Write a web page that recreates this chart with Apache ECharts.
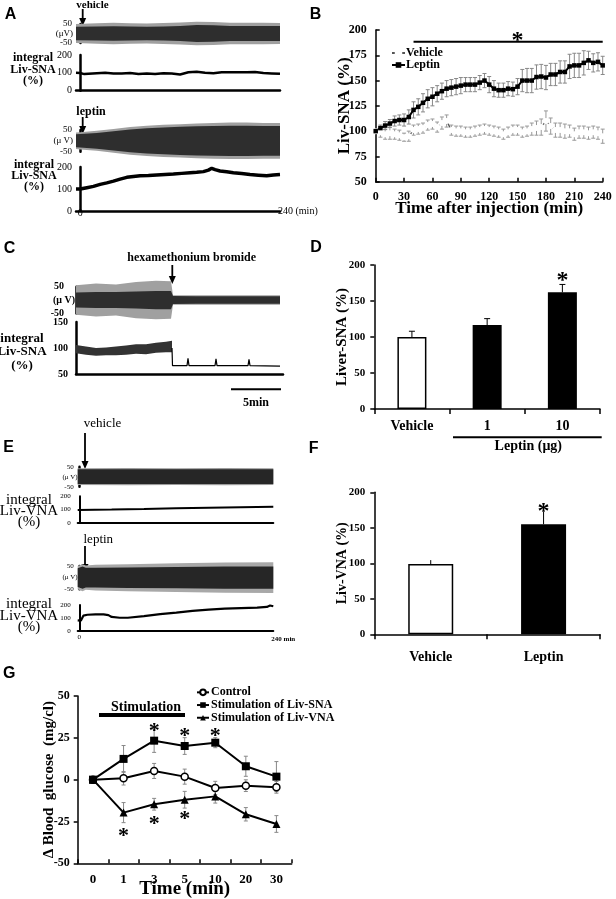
<!DOCTYPE html>
<html>
<head>
<meta charset="utf-8">
<script src="https://cdn.jsdelivr.net/npm/echarts@6/dist/echarts.min.js"></script>
<style>
  html, body { margin: 0; padding: 0; background: #fff; }
  #chart { width: 616px; height: 899px; }
</style>
</head>
<body>
<div id="chart"></div>
<script>
// ---------- data ----------
// A: raw Liv-SNA envelope (half amplitude, uV) and integrated Liv-SNA (%)
const aVehRawTime = [-5, 20, 40, 60, 80, 100, 120, 140, 160, 180, 200, 220, 240]
const aVehRawCore = [36, 37, 38, 37, 36, 37, 40, 45, 44, 40, 39, 40, 39]
const aVehRawFringe = [50, 54, 56, 54, 52, 55, 58, 62, 60, 56, 56, 57, 55]
const aVehIntTime = [-5, 0, 5, 10, 20, 30, 40, 50, 60, 70, 80, 90, 100, 110, 120, 130, 140, 150, 160, 170, 180, 190, 200, 210, 220, 230, 240]
const aVehIntVal = [100, 99, 93, 95, 98, 100, 97, 96, 99, 94, 96, 93, 98, 96, 91, 103, 106, 101, 98, 103, 104, 104, 103, 105, 99, 97, 95]
const aLepRawTime = [-5, 0, 20, 40, 60, 80, 100, 120, 140, 160, 180, 200, 220, 240]
const aLepRawCore = [30, 31, 36, 44, 52, 58, 62, 65, 67, 69, 70, 70, 69, 69]
const aLepRawFringe = [38, 40, 46, 55, 64, 70, 74, 77, 80, 82, 84, 84, 82, 82]
const aLepIntTime = [-5, 0, 8, 16, 24, 32, 40, 48, 56, 64, 72, 82, 92, 102, 112, 122, 132, 140, 148, 154, 158, 162, 168, 176, 184, 194, 204, 214, 224, 232, 240]
const aLepIntVal = [100, 100, 106, 112, 121, 128, 136, 145, 153, 157, 160, 161, 164, 166, 168, 171, 174, 176, 179, 186, 194, 188, 182, 178, 174, 170, 166, 163, 160, 164, 166]

// B: Liv-SNA (%) every 5 min, mean and SE
const bTime = [0, 5, 10, 15, 20, 25, 30, 35, 40, 45, 50, 55, 60, 65, 70, 75, 80, 85, 90, 95, 100, 105, 110, 115, 120, 125, 130, 135, 140, 145, 150, 155, 160, 165, 170, 175, 180, 185, 190, 195, 200, 205, 210, 215, 220, 225, 230, 235, 240]
const bLeptin = [100, 103, 105.5, 107.5, 110, 111, 111, 114, 121, 124, 128, 132, 134, 137, 139.5, 142, 143, 144, 145, 146, 146, 146, 148, 150, 146, 142, 140.5, 140.5, 142, 141.5, 144, 150, 150, 150, 153.5, 154, 153, 156, 156, 158.5, 158.5, 164, 165, 165, 167.5, 170, 167.5, 168.5, 165]
const bLepErr = [0, 3, 4, 4, 5, 5, 6, 7, 8, 8, 9, 9, 9, 8, 8, 8, 8, 8, 8, 7, 7, 7, 7, 7, 8, 8, 7, 7, 7, 7, 8, 11, 12, 12, 12, 12, 12, 11, 11, 11, 11, 12, 12, 12, 12, 9, 9, 9, 9]
const bVehicle = [100, 99, 97, 98, 97, 96, 94, 95, 101, 102, 103, 106, 107, 104, 108, 110, 101, 100, 100, 99, 99, 100, 101, 102, 101, 100, 99, 97, 99, 101, 101, 99, 100, 102, 103, 104, 110, 105, 101, 101, 100, 100, 97, 99, 99, 98, 99, 98, 95]
const bVehErr = [0, 5, 5, 6, 5, 5, 4, 5, 5, 5, 5, 5, 5, 5, 6, 6, 5, 5, 5, 5, 5, 5, 5, 5, 5, 5, 5, 5, 5, 5, 5, 5, 5, 6, 7, 8, 10, 8, 7, 7, 7, 6, 6, 6, 6, 6, 6, 6, 7]
const bSigSpan = [40, 240]
const bSigLevel = 188.5
const bStar = [150, 196]

// C: hexamethonium bromide (time in min)
const cRawTime = [0, 2, 4, 6, 8, 9.5, 9.7, 12, 14, 16, 18, 20.4]
const cRawCore = [28, 30, 30, 32, 34, 34, 15, 14, 14, 14, 14, 14]
const cRawFringe = [55, 62, 58, 68, 72, 70, 18, 18, 18, 18, 18, 18]
const cIntTime = [0, 1, 2, 3, 4, 5, 6, 7, 8, 9, 9.6]
const cIntLow = [90, 87, 85, 86, 86, 87, 89, 88, 91, 92, 92]
const cIntHigh = [106, 103, 100, 101, 103, 105, 107, 107, 110, 112, 114]
const cPostTime = [9.6, 9.65, 11.1, 11.2, 11.3, 13.9, 14.0, 14.1, 17.2, 17.3, 17.4, 20.4]
const cPostVal = [100, 66, 66, 80, 66, 66, 79, 66, 66, 78, 66, 65]

// D: Liver-SNA (%) by leptin dose
const dCats = ['Vehicle', '1', '10']
const dVals = [100, 116.5, 162]
const dErr = [8, 9, 11]
const dStar = [2, 187]

// E: raw Liv-VNA envelope and integrated Liv-VNA (%)
const eVehRawTime = [-2, 60, 120, 180, 240]
const eVehRawCore = [37, 37, 37, 37, 37]
const eVehRawFringe = [42, 43, 42, 43, 42]
const eVehIntTime = [-2, 40, 80, 120, 160, 200, 240]
const eVehIntVal = [97, 100, 104, 109, 114, 118, 122]
const eLepRawTime = [-2, 4, 8, 20, 60, 120, 180, 240]
const eLepRawCore = [40, 48, 42, 42, 44, 46, 48, 48]
const eLepRawFringe = [50, 58, 52, 55, 58, 62, 65, 66]
const eLepIntTime = [-2, 2, 5, 10, 20, 30, 36, 40, 50, 60, 80, 100, 120, 140, 160, 180, 200, 220, 232, 236, 240]
const eLepIntVal = [82, 80, 118, 125, 128, 128, 122, 108, 102, 102, 115, 130, 142, 155, 165, 172, 176, 180, 185, 196, 190]

// F: Liv-VNA (%)
const fCats = ['Vehicle', 'Leptin']
const fVals = [99, 155]
const fErr = [5.5, 17.5]
const fStar = [1, 182]

// G: change of blood glucose (mg/dl)
const gCats = ['0', '1', '3', '5', '10', '20', '30']
const gControl = [0, 0.8, 5.2, 1.8, -5, -3.6, -4.6]
const gControlErr = [0, 4, 4.5, 4.5, 4, 3.5, 3.5]
const gSNA = [0, 12.4, 23.3, 20.1, 22.1, 8, 1.8]
const gSNAErr = [0, 8, 7, 5, 3, 6, 9]
const gVNA = [0, -19.7, -14.7, -12, -10, -20.7, -26.5]
const gVNAErr = [0, 6, 3.5, 5, 4, 4, 5]
const gStarIdx = [2, 3, 4, 1, 2, 3]
const gStarVal = [32.7, 29.7, 29.7, -30, -23, -20]

// ---------- helpers ----------
const SERIF = 'Liberation Serif'
const SANS = 'Liberation Sans'
const BLACK = '#000'

function font(size, extra) {
  return Object.assign({ color: BLACK, fontFamily: SERIF, fontWeight: 'bold', fontSize: size }, extra || {})
}

const pairs = (xs, ys) => xs.map((x, i) => [x, ys[i]])

// filled band between two curves (symmetric when lower is omitted)
function band(g, times, upper, lower, color) {
  const low = lower || upper.map(v => -v)
  return {
    type: 'custom', xAxisIndex: g, yAxisIndex: g, silent: true,
    data: [[times[0], upper[0]]],
    renderItem: (params, api) => {
      const top = times.map((t, i) => api.coord([t, upper[i]]))
      const bot = times.map((t, i) => api.coord([t, low[i]])).reverse()
      return { type: 'polygon', shape: { points: top.concat(bot) }, style: { fill: color } }
    }
  }
}

function trace(g, times, vals, width) {
  return {
    type: 'line', xAxisIndex: g, yAxisIndex: g, silent: true, symbol: 'none',
    data: pairs(times, vals), lineStyle: { color: BLACK, width: width }
  }
}

function errorBars(g, xs, ys, errs, color, cap, upOnly) {
  return {
    type: 'custom', xAxisIndex: g, yAxisIndex: g, silent: true, z: 1,
    data: xs.map((x, i) => [x, ys[i], errs[i]]),
    renderItem: (params, api) => {
      const x = api.value(0), y = api.value(1), e = api.value(2)
      const hi = api.coord([x, y + e])
      const lo = api.coord([x, upOnly ? y : y - e])
      const st = { stroke: color, lineWidth: 1 }
      const kids = [
        { type: 'line', shape: { x1: hi[0], y1: hi[1], x2: lo[0], y2: lo[1] }, style: st },
        { type: 'line', shape: { x1: hi[0] - cap, y1: hi[1], x2: hi[0] + cap, y2: hi[1] }, style: st }
      ]
      if (!upOnly) kids.push({ type: 'line', shape: { x1: lo[0] - cap, y1: lo[1], x2: lo[0] + cap, y2: lo[1] }, style: st })
      return { type: 'group', children: kids }
    }
  }
}

function stars(g, xs, ys, size) {
  return {
    type: 'custom', xAxisIndex: g, yAxisIndex: g, silent: true, z: 5,
    data: xs.map((x, i) => [x, ys[i]]),
    renderItem: (params, api) => {
      const c = api.coord([api.value(0), api.value(1)])
      return {
        type: 'text',
        style: { text: '*', x: c[0], y: c[1] + size * 0.28, fill: BLACK, font: 'bold ' + size + 'px "' + SERIF + '"', align: 'center', verticalAlign: 'middle' }
      }
    }
  }
}

function rawY(g, fs, margin, gap, weight, unit) {
  return {
    gridIndex: g, type: 'value', min: -50, max: 50, interval: 100,
    axisLine: { show: true, lineStyle: { color: BLACK, width: 2.5 } },
    axisTick: { show: false }, splitLine: { show: false },
    axisLabel: font(fs, { margin: margin, fontWeight: weight }),
    name: unit || '(μV)', nameLocation: 'middle', nameRotate: 0, nameGap: gap, nameMoveOverlap: false,
    nameTextStyle: font(fs, { fontWeight: weight })
  }
}

function hiddenX(g, min, max) {
  return { gridIndex: g, type: 'value', min: min, max: max, show: false }
}

function traceX(g, min, max, w, extra) {
  return Object.assign({
    gridIndex: g, type: 'value', min: min, max: max, nameMoveOverlap: false,
    axisLine: { show: true, onZero: false, lineStyle: { color: BLACK, width: w } },
    axisTick: { show: false }, axisLabel: { show: false }, splitLine: { show: false }
  }, extra || {})
}

function traceY(g, min, max, interval, fs, margin, w, weight) {
  return {
    gridIndex: g, type: 'value', min: min, max: max, interval: interval,
    axisLine: { show: true, lineStyle: { color: BLACK, width: w } },
    axisTick: { show: false }, splitLine: { show: false },
    axisLabel: font(fs, { margin: margin, fontWeight: weight })
  }
}

function plotAxis(extra) {
  return Object.assign({
    nameMoveOverlap: false,
    axisLine: { show: true, onZero: false, lineStyle: { color: BLACK, width: 1.5 } },
    axisTick: { show: true, length: 4, lineStyle: { color: BLACK, width: 1.5 } },
    splitLine: { show: false }
  }, extra)
}

const insideTick = { show: true, inside: true, length: 4, lineStyle: { color: BLACK, width: 1.5 } }

// ---------- layout ----------
const gridBoxes = [
  [76, 24, 204, 19],        // 0 A vehicle raw
  [76, 55, 204, 35.7],      // 1 A vehicle integral
  [76, 130, 204, 21.7],     // 2 A leptin raw
  [76, 167, 204, 44],       // 3 A leptin integral
  [375.7, 30, 227, 151.7],  // 4 B
  [76, 286.7, 207, 26.7],   // 5 C raw
  [76, 322, 207, 52],       // 6 C integral
  [374.3, 265, 225.7, 144], // 7 D
  [77.7, 466.7, 195.6, 20], // 8 E vehicle raw
  [77.7, 496.3, 195.6, 26.5], // 9 E vehicle integral
  [77.7, 566, 195.6, 23.3], // 10 E leptin raw
  [77.7, 605, 195.6, 26],   // 11 E leptin integral
  [374.3, 492.3, 225.7, 142], // 12 F
  [77.7, 696, 214, 167.3]   // 13 G
]
const grid = gridBoxes.map(b => ({ left: b[0], top: b[1], width: b[2], height: b[3], outerBoundsMode: 'none', containLabel: false }))

const xAxis = [
  hiddenX(0, -5, 240),
  traceX(1, -5, 240, 2.5),
  hiddenX(2, -5, 240),
  traceX(3, -5, 240, 2.5, {
    axisLabel: font(10, { fontWeight: 'normal', customValues: [0], margin: -3 }),
    name: '240 (min)', nameLocation: 'end', nameGap: -2, nameTextStyle: font(10, { fontWeight: 'normal' })
  }),
  plotAxis({ gridIndex: 4, type: 'value', min: 0, max: 240, interval: 30,
    axisTick: insideTick,
    axisLabel: font(12, { margin: 9 }),
    name: 'Time after injection (min)', nameLocation: 'middle', nameGap: 18, nameTextStyle: font(17) }),
  hiddenX(5, 0, 20.7),
  traceX(6, 0, 20.7, 2.5),
  plotAxis({ gridIndex: 7, type: 'category', data: dCats, boundaryGap: true,
    axisTick: { show: true, length: 5, alignWithLabel: false, lineStyle: { color: BLACK, width: 1.5 } },
    axisLabel: font(14, { margin: 10 }) }),
  hiddenX(8, -2, 240),
  traceX(9, -2, 240, 2),
  hiddenX(10, -2, 240),
  traceX(11, -2, 240, 2, {
    axisLabel: font(7, { fontWeight: 'normal', customValues: [0], margin: 3 }),
    name: '240 min', nameLocation: 'end', nameGap: -2,
    nameTextStyle: font(7, { verticalAlign: 'top', lineHeight: 17 })
  }),
  plotAxis({ gridIndex: 12, type: 'category', data: fCats, boundaryGap: true,
    axisTick: { show: true, length: 5, alignWithLabel: false, lineStyle: { color: BLACK, width: 1.5 } },
    axisLabel: font(14, { margin: 16 }) }),
  plotAxis({ gridIndex: 13, type: 'category', data: gCats, boundaryGap: true,
    axisTick: Object.assign({ alignWithLabel: false }, insideTick),
    axisLabel: font(13, { margin: 10 }),
    name: 'Time (min)', nameLocation: 'middle', nameGap: 16, nameTextStyle: font(19) })
]

const yAxis = [
  rawY(0, 9, 4, 3, 'normal'),
  traceY(1, 0, 200, 100, 10, 4, 2.5, 'normal'),
  rawY(2, 9, 4, 3, 'normal', '(μ V)'),
  traceY(3, 0, 200, 100, 10, 4, 2.5, 'normal'),
  plotAxis({ gridIndex: 4, type: 'value', min: 50, max: 200, interval: 25,
    axisTick: insideTick,
    axisLabel: font(12, { margin: 9 }),
    name: 'Liv-SNA (%)', nameLocation: 'middle', nameGap: 23, nameTextStyle: font(17) }),
  rawY(5, 10, 12, 1, 'bold', '(μ V)'),
  traceY(6, 50, 150, 50, 10, 8, 2.5, 'bold'),
  plotAxis({ gridIndex: 7, type: 'value', min: 0, max: 200, interval: 50,
    axisLabel: font(11, { margin: 9 }),
    name: 'Liver-SNA (%)', nameLocation: 'middle', nameGap: 25, nameTextStyle: font(15) }),
  rawY(8, 7, 4, 0, 'normal', '(μ V)'),
  traceY(9, 0, 200, 100, 7, 7, 2, 'normal'),
  rawY(10, 7, 4, 0, 'normal', '(μ V)'),
  traceY(11, 0, 200, 100, 7, 7, 2, 'normal'),
  plotAxis({ gridIndex: 12, type: 'value', min: 0, max: 200, interval: 50,
    axisLabel: font(11, { margin: 9 }),
    name: 'Liv-VNA (%)', nameLocation: 'middle', nameGap: 25, nameTextStyle: font(14) }),
  plotAxis({ gridIndex: 13, type: 'value', min: -50, max: 50, interval: 25,
    axisLabel: font(12, { margin: 8 }),
    name: 'Δ Blood  glucose  (mg/cl)', nameLocation: 'middle', nameGap: 21, nameTextStyle: font(15) })
]

// ---------- series ----------
const series = [
  // A
  band(0, aVehRawTime, aVehRawFringe, null, '#a0a0a0'),
  band(0, aVehRawTime, aVehRawCore, null, '#2e2e2e'),
  trace(1, aVehIntTime, aVehIntVal, 2.5),
  band(2, aLepRawTime, aLepRawFringe, null, '#a0a0a0'),
  band(2, aLepRawTime, aLepRawCore, null, '#2e2e2e'),
  trace(3, aLepIntTime, aLepIntVal, 3.5),
  // B
  errorBars(4, bTime, bVehicle, bVehErr, '#999', 2, false),
  errorBars(4, bTime, bLeptin, bLepErr, '#888', 2, false),
  {
    name: 'Vehicle', type: 'line', xAxisIndex: 4, yAxisIndex: 4, data: pairs(bTime, bVehicle),
    symbol: 'emptyCircle', symbolSize: 4, lineStyle: { color: '#555', width: 1.3 },
    itemStyle: { color: '#fff', borderColor: '#555', borderWidth: 1 }
  },
  {
    name: 'Leptin', type: 'line', xAxisIndex: 4, yAxisIndex: 4, data: pairs(bTime, bLeptin),
    symbol: 'rect', symbolSize: 4.5, lineStyle: { color: BLACK, width: 2 }, itemStyle: { color: BLACK }
  },
  {
    type: 'line', xAxisIndex: 4, yAxisIndex: 4, silent: true, symbol: 'none',
    data: bSigSpan.map(t => [t, bSigLevel]), lineStyle: { color: BLACK, width: 2 }
  },
  stars(4, [bStar[0]], [bStar[1]], 24),
  // C
  band(5, cRawTime, cRawFringe, null, '#a0a0a0'),
  band(5, cRawTime, cRawCore, null, '#2e2e2e'),
  band(6, cIntTime, cIntHigh, cIntLow, '#333'),
  trace(6, cPostTime, cPostVal, 1.2),
  // D
  {
    type: 'bar', xAxisIndex: 7, yAxisIndex: 7, barWidth: 29, silent: true,
    data: dVals.map((v, i) => ({ value: v, itemStyle: i === 0 ? { color: '#fff', borderColor: BLACK, borderWidth: 1.5 } : { color: BLACK } }))
  },
  errorBars(7, [0, 1, 2], dVals, dErr, BLACK, 3, true),
  stars(7, [dStar[0]], [dStar[1]], 24),
  // E
  band(8, eVehRawTime, eVehRawFringe, null, '#9c9c9c'),
  band(8, eVehRawTime, eVehRawCore, null, '#262626'),
  trace(9, eVehIntTime, eVehIntVal, 2),
  band(10, eLepRawTime, eLepRawFringe, null, '#a8a8a8'),
  band(10, eLepRawTime, eLepRawCore, null, '#262626'),
  trace(11, eLepIntTime, eLepIntVal, 2.2),
  // F
  {
    type: 'bar', xAxisIndex: 12, yAxisIndex: 12, barWidth: 45, silent: true,
    data: fVals.map((v, i) => ({ value: v, itemStyle: i === 0 ? { color: '#fff', borderColor: BLACK, borderWidth: 1.5 } : { color: BLACK } }))
  },
  errorBars(12, [0, 1], fVals, fErr, BLACK, 0, true),
  stars(12, [fStar[0]], [fStar[1]], 24),
  // G
  errorBars(13, [0, 1, 2, 3, 4, 5, 6], gControl, gControlErr, '#888', 2, false),
  errorBars(13, [0, 1, 2, 3, 4, 5, 6], gSNA, gSNAErr, '#888', 2, false),
  errorBars(13, [0, 1, 2, 3, 4, 5, 6], gVNA, gVNAErr, '#888', 2, false),
  {
    name: 'Control', type: 'line', xAxisIndex: 13, yAxisIndex: 13, data: gControl,
    symbol: 'circle', symbolSize: 7, lineStyle: { color: BLACK, width: 2 },
    itemStyle: { color: '#fff', borderColor: BLACK, borderWidth: 1.5 }
  },
  {
    name: 'Stimulation of Liv-SNA', type: 'line', xAxisIndex: 13, yAxisIndex: 13, data: gSNA,
    symbol: 'rect', symbolSize: 8, lineStyle: { color: BLACK, width: 2 }, itemStyle: { color: BLACK }
  },
  {
    name: 'Stimulation of Liv-VNA', type: 'line', xAxisIndex: 13, yAxisIndex: 13, data: gVNA,
    symbol: 'triangle', symbolSize: 8, lineStyle: { color: BLACK, width: 2 }, itemStyle: { color: BLACK }
  },
  stars(13, gStarIdx, gStarVal, 22)
]

// ---------- annotations ----------
function txt(x, y, text, size, extra) {
  return { type: 'text', x: x, y: y, silent: true,
    style: Object.assign({ text: text, font: 'bold ' + size + 'px "' + SERIF + '"', fill: BLACK, align: 'center', verticalAlign: 'middle' }, extra || {}) }
}
function letter(x, y, t) {
  return txt(x, y, t, 16, { font: 'bold 16px "' + SANS + '"' })
}
function arrow(x, y1, y2) {
  return [
    { type: 'line', silent: true, shape: { x1: x, y1: y1, x2: x, y2: y2 - 5 }, style: { stroke: BLACK, lineWidth: 1.8 } },
    { type: 'polygon', silent: true, shape: { points: [[x - 3.5, y2 - 8], [x + 3.5, y2 - 8], [x, y2]] }, style: { fill: BLACK } }
  ]
}
function hline(x1, x2, y, w) {
  return { type: 'line', silent: true, shape: { x1: x1, y1: y, x2: x2, y2: y }, style: { stroke: BLACK, lineWidth: w } }
}
function stack3(x, y, gap, size, words, weight) {
  return words.map((w, i) => txt(x, y + i * gap, w, size, { font: weight + ' ' + size + 'px "' + SERIF + '"' }))
}

const graphic = [].concat(
  [letter(10.5, 14.7, 'A'), letter(315.5, 14.3, 'B'), letter(9.5, 248.3, 'C'), letter(316, 248, 'D'),
   letter(8.7, 447.7, 'E'), letter(313.7, 448.3, 'F'), letter(9.2, 674, 'G')],
  // A
  [txt(92.5, 5.5, 'vehicle', 11), txt(91, 112, 'leptin', 12)],
  arrow(82.7, 9, 26), arrow(82.7, 117, 134),
  stack3(33, 58.3, 11.3, 12, ['integral', 'Liv-SNA', '(%)'], 'bold'),
  stack3(34, 165, 11.2, 12, ['integral', 'Liv-SNA', '(%)'], 'bold'),
  // C
  [txt(191.7, 258.3, 'hexamethonium bromide', 12)],
  arrow(172.3, 265, 284),
  stack3(22, 338.3, 13.7, 13, ['integral', 'Liv-SNA', '(%)'], 'bold'),
  [hline(231, 281, 389.3, 2), txt(256, 402.7, '5min', 12)],
  // D
  [hline(453, 601.7, 437.3, 2), txt(528.3, 446.5, 'Leptin (μg)', 14)],
  // E
  [txt(102.5, 423.3, 'vehicle', 13, { font: '13px "' + SERIF + '"' }), txt(98.3, 539.3, 'leptin', 13, { font: '13px "' + SERIF + '"' })],
  arrow(85, 433, 469), arrow(85, 546, 572),
  stack3(29, 500, 11, 15, ['integral', 'Liv-VNA', '(%)'], 'normal'),
  stack3(29, 604, 11.7, 15, ['integral', 'Liv-VNA', '(%)'], 'normal'),
  // G
  [txt(146, 707, 'Stimulation', 14), hline(99, 185, 715, 4)]
)

const option = {
  animation: false,
  backgroundColor: '#fff',
  textStyle: { fontFamily: SERIF },
  grid: grid,
  xAxis: xAxis,
  yAxis: yAxis,
  legend: [
    {
      data: ['Vehicle', 'Leptin'], left: 386, top: 42, orient: 'vertical', itemGap: 0,
      itemWidth: 13, itemHeight: 7, selectedMode: false,
      textStyle: font(12, { lineHeight: 12, padding: [0, 0, 0, -4] })
    },
    {
      data: ['Control', 'Stimulation of Liv-SNA', 'Stimulation of Liv-VNA'], left: 191, top: 681,
      orient: 'vertical', itemGap: 0, itemWidth: 12, itemHeight: 7, selectedMode: false,
      textStyle: font(12, { lineHeight: 12.7, padding: [0, 0, 0, -3] })
    }
  ],
  graphic: graphic,
  series: series
}

const chart = echarts.init(document.getElementById('chart'))
chart.setOption(option)
</script>
</body>
</html>
